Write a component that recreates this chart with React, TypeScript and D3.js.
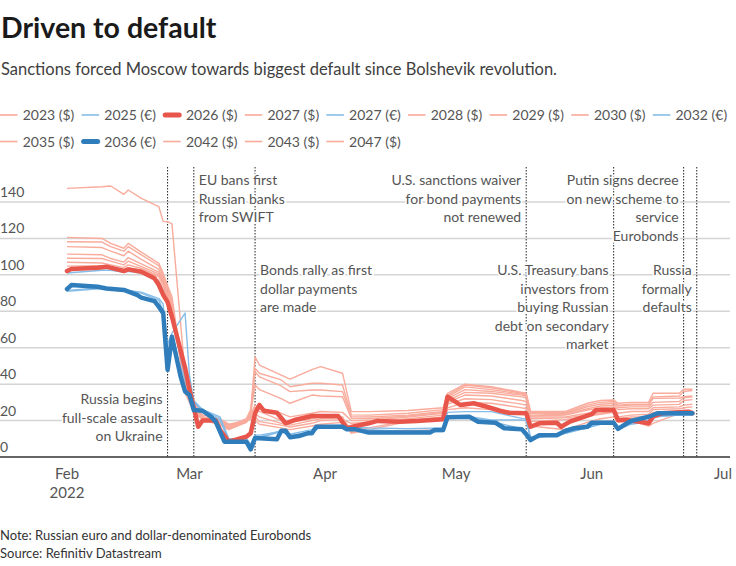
import React from "react";
import * as d3 from "d3";

const W = 736;
const H = 566;
const FONT = "Lato, 'Noto Sans', sans-serif";

// ---------- data ----------
const lightDates = ["02-01","02-09","02-11","02-14","02-15","02-18","02-22","02-23","02-24","02-25","02-28","03-01","03-02","03-04","03-08","03-10","03-14","03-15","03-16","03-17","03-22","03-24","03-29","03-31","04-05","04-07","04-11","04-20","04-28","04-29","05-03","05-09","05-16","05-17","05-18","05-26","05-31","06-03","06-06","06-07","06-10","06-14","06-15","06-21","06-22","06-24"];

const s2023 = [102.8,103.5,103.5,102,103,101.8,97,92,86,77,44,38,30,23,21,18,20,21,20,18,16,15,17,18,19,13.5,14.5,14.5,15,26,27,26,24.5,24,17,15,19,21,22,19,20,17,18.5,24,24.5,24.5];
const s2025e = [101,102.5,102.5,101.5,102,101,96,91,84,75,44,36,30,26,22,10,10,7,12,12,14,12.5,15,17,17.5,16.5,16,15.5,16,24.5,24.9,24.9,21.2,21,11,13,16.5,18.5,19,16,18.5,20,22,23.5,23.5,23.5];
const s2027 = [104.8,105,104,102.8,104,102.5,99,94,87,79,43,36,29,22,20,17.5,19.5,22,24,22,18.5,17.5,20,21,21.5,13,15,19.5,21.5,27,30,29.5,27,26.5,19.5,20.5,22.5,23.5,24.5,21,22,22,24.5,25,25.5,25.5];
const s2027e = [91,92.5,92,91.5,91,90,86,80,62,68,79,45,30,25,20,9,9,6,10.5,11,14.5,11.5,14,17,17,15.5,15,14,15,22.5,22.5,20.3,20.3,20,10,13,16,18,18.5,15,18,19.5,22,23,23,23];
const s2028 = [147.5,148.4,148.8,144.2,146.6,142,137.4,129.2,129.2,128,45,36,30,25,20,16,20,24,55,50.5,45,42.7,48,49.6,46,24.9,24.9,25.5,27,35,40,38.6,35.5,35,25,25,29.5,31,31.3,29.5,30,30,35,35,37.2,37.2];
const s2029 = [106.9,106.5,105.5,104,105.5,103.5,99.5,95,88,80,41,35,28,22,20,17,20,23,27,25,20,19,21,22,22,14,16,20,22,29,32,31.5,29,28.5,21,21.5,23,24,25,22,23,23.5,26,26.5,27,27.5];
const s2030 = [109.1,109,107.5,105.5,107.5,104.5,100.5,96,89,82,39,34,27,21,19,16,19,22,22.1,19.4,17.5,16.5,18.5,20,20.5,18.5,19,21,23,30,34,33.5,31,30.5,22,22,24,25,26,24,25,25,27,27.5,28.5,29];
const s2032e = [91.5,93,92.5,92,91.5,90.5,87,84,52,62,42,36,31,26,21,9.5,9,6,10,10.5,14,11,13.5,16.5,16.5,15,14,13.5,14,21.5,22,19.5,15.5,14,10.5,13.5,16,18.5,19,15.5,18.5,20,22.5,23,23,23];
const s2035 = [111.4,111,109,107,109.5,106,101.5,97,90,83,37,32,25,20.5,17.5,15,19,23,28.5,27,24,22,24,25,24.5,20,20,22,24,31,35.5,35,33,32.5,22.5,23,25.8,27,27.5,26,26.5,26.5,28.5,28.9,31,31.5];
const s2042 = [118.2,118,115.5,113,115.5,111,105,99.5,93,86,36,31,25,21,18,16,20,25,46.8,44,39,35.9,36.8,36.8,35.9,22.1,22,23,25,33,38.5,37,34.5,34,24,24,27.6,29,29.5,28,28.5,28.5,32.2,32.4,33.1,33.5];
const s2043 = [120.6,120,117.3,114.6,117.3,112.5,106.3,100.8,94,88,38,33,26,22,19,17,21,26,48.7,46,42.3,38.6,40.5,40.5,39.5,23.1,23,24,26,34,39.5,38,35,34.5,24.5,24.5,28.5,30,30.5,28.5,29,29,33,33.5,36,36.5];
const s2047 = [115.5,115,113,110.5,113,108.5,103,98,92,85,35,30,24,21,18,15.5,19.5,24,39.5,37,32,29.5,34,33.5,33.1,21.2,21,22.5,24.5,32,37,36,34,33.5,23,23.5,26.5,28,28.5,27,27.5,27.5,30,30.5,32.5,33];

const redDates = ["02-01","02-02","02-08","02-10","02-14","02-15","02-18","02-21","02-22","02-23","02-24","02-25","02-28","03-01","03-02","03-03","03-04","03-07","03-08","03-10","03-14","03-15","03-16","03-17","03-18","03-21","03-23","03-25","03-29","04-04","04-06","04-08","04-11","04-13","04-18","04-22","04-28","04-29","05-02","05-05","05-08","05-11","05-13","05-17","05-18","05-20","05-24","05-25","05-27","06-01","06-02","06-06","06-07","06-09","06-12","06-14","06-15","06-17","06-23","06-24"];
const s2026 = [102.1,103.2,103.9,104.5,102.1,103,101.7,98.1,94.4,89,85,77,49,37,27,16.6,20,20,14.8,8.4,11.1,13,24,28.5,25.4,24.3,18.5,20.3,22.5,22.5,15.8,17,18.5,19.8,19.4,19.8,20.7,33.1,28.5,29.5,27.6,25.4,24.3,24,16.6,18.5,18.8,16.6,19.4,23.6,25.8,25.8,20.3,20.3,19.4,18.5,22.1,24,24.9,24];

const blueDates = ["02-01","02-02","02-08","02-10","02-14","02-17","02-18","02-21","02-22","02-23","02-24","02-25","02-27","02-28","03-01","03-02","03-04","03-06","03-07","03-09","03-14","03-15","03-16","03-21","03-22","03-23","03-24","03-26","03-28","03-29","03-30","04-05","04-06","04-08","04-11","04-25","04-26","04-28","04-29","05-04","05-06","05-10","05-12","05-16","05-17","05-18","05-20","05-24","05-26","05-28","05-31","06-01","06-06","06-07","06-09","06-10","06-14","06-16","06-24"];
const s2036e = [92.2,94.4,93.5,92.5,91.7,89,87.5,85.6,82.5,79,47.8,66,44,36,34,25.8,25.4,22,19.4,8.4,8.4,4.2,10.4,9.7,14.4,14.4,10.8,11.5,13,13,16.6,16.6,15.2,15.2,13.4,13.4,14.8,14.8,21.8,22.1,19.4,18.8,15.8,15.2,12.5,9.3,12,12,14.4,15.8,16.6,18.8,18.8,15.4,18.5,19.8,22.1,24,24];

const legendLabels = ["2023 ($)","2025 (€)","2026 ($)","2027 ($)","2027 (€)","2028 ($)","2029 ($)","2030 ($)","2032 (€)","2035 ($)","2036 (€)","2042 ($)","2043 ($)","2047 ($)"];
const legendKinds = ["lr","lb","red","lr","lb","lr","lr","lr","lb","lr","blue","lr","lr","lr"];

const yTicks = [0, 20, 40, 60, 80, 100, 120, 140];
const monthTicks = ["02-01","03-01","04-01","05-01","06-01","07-01"];
const monthLabels = ["Feb","Mar","Apr","May","Jun","Jul"];

const eventDates = ["02-24","03-02","03-16","05-17","06-06","06-22","06-25"];
const eventTexts = [
  ["Russia begins","full-scale assault","on Ukraine"],
  ["EU bans first","Russian banks","from SWIFT"],
  ["Bonds rally as first","dollar payments","are made"],
  ["U.S. sanctions waiver","for bond payments","not renewed"],
  ["U.S. Treasury bans","investors from","buying Russian","debt on secondary","market"],
  ["Putin signs decree","on new scheme to","service","Eurobonds"],
  ["Russia","formally","defaults"],
];
// layout for annotations: side and first baseline
const eventSide = ["end","start","start","end","end","end","end"];
const eventTop = [404, 185, 275, 185, 275, 185, 275];

// ---------- styles ----------
const COL = {
  lr: "#f9ab9c",
  lb: "#86bde8",
  red: "#e8564b",
  blue: "#2f7dbb",
};

const parse = d3.timeParse("%Y-%m-%d");
const P = (s: string) => parse("2022-" + s) as Date;

export default function App() {
  const x = d3.scaleTime().domain([P("02-01"), P("07-01")]).range([67, 723]);
  const y = d3.scaleLinear().domain([0, 140]).range([457, 202]);

  const line = d3
    .line<[Date, number]>()
    .x((d) => x(d[0]))
    .y((d) => y(d[1]))
    .curve(d3.curveLinear);

  const mk = (dates: string[], vals: number[]) =>
    line(dates.map((d, i) => [P(d), vals[i]] as [Date, number])) || "";

  const lightRed = [s2023, s2027, s2028, s2029, s2030, s2035, s2042, s2043, s2047];
  const lightBlue = [s2025e, s2027e, s2032e];

  const lineH = 18.5;

  return (
    <svg
      width={W}
      height={H}
      style={{ position: "absolute", left: 0, top: 0, background: "#fff" }}
      fontFamily={FONT}
    >
      <rect width={W} height={H} fill="#fff" />
      {/* title */}
      <text x={1} y={38} fontSize={28.5} fontWeight={700} fill="#1a1a1a">
        Driven to default
      </text>
      <text x={1} y={75} fontSize={16.5} fill="#404040">
        Sanctions forced Moscow towards biggest default since Bolshevik revolution.
      </text>

      {/* legend */}
      {legendLabels.map((lab, i) => {
        const row = i < 9 ? 0 : 1;
        const col = i < 9 ? i : i - 9;
        const lx = col * 81.6;
        const ly = row === 0 ? 115 : 141.5;
        const k = legendKinds[i];
        const thick = k === "red" || k === "blue";
        return (
          <g key={lab}>
            <line
              x1={lx + (thick ? 2 : 0)}
              x2={lx + (thick ? 16 : 17.5)}
              y1={ly}
              y2={ly}
              stroke={COL[k as keyof typeof COL]}
              strokeWidth={thick ? 5 : 1.6}
              strokeLinecap={thick ? "round" : "butt"}
            />
            <text x={lx + 22.7} y={ly + 5} fontSize={14} fill="#555">
              {lab}
            </text>
          </g>
        );
      })}

      {/* grid */}
      {yTicks.map((t) =>
        t === 0 ? null : (
          <line key={t} x1={0} x2={730} y1={y(t)} y2={y(t)} stroke="#d4d4d4" strokeWidth={1.5} />
        )
      )}

      {/* event lines */}
      {eventDates.map((d) => (
        <line
          key={d}
          x1={x(P(d))}
          x2={x(P(d))}
          y1={167}
          y2={457}
          stroke="#222"
          strokeWidth={1}
          strokeDasharray="1.5,1.5"
        />
      ))}

      {/* annotations */}
      {eventDates.map((d, i) => {
        const side = eventSide[i];
        const tx = x(P(d)) + (side === "start" ? 5 : -5);
        return (
          <text
            key={"t" + d}
            textAnchor={side}
            fontSize={14}
            fill="#555"
            stroke="#fff"
            strokeWidth={3.5}
            strokeLinejoin="round"
            paintOrder="stroke"
          >
            {eventTexts[i].map((s, j) => (
              <tspan key={j} x={tx} y={eventTop[i] + j * lineH}>
                {s}
              </tspan>
            ))}
          </text>
        );
      })}

      {/* y tick labels */}
      {yTicks.map((t) => (
        <text
          key={"y" + t}
          x={0}
          y={y(t) - 5}
          fontSize={14}
          fill="#555"
          stroke="#fff"
          strokeWidth={3}
          paintOrder="stroke"
        >
          {t}
        </text>
      ))}

      {/* series */}
      {lightRed.map((s, i) => (
        <path key={"lr" + i} d={mk(lightDates, s)} fill="none" stroke={COL.lr} strokeWidth={1.4} strokeLinejoin="round" />
      ))}
      {lightBlue.map((s, i) => (
        <path key={"lb" + i} d={mk(lightDates, s)} fill="none" stroke={COL.lb} strokeWidth={1.4} strokeLinejoin="round" />
      ))}
      <path d={mk(redDates, s2026)} fill="none" stroke={COL.red} strokeWidth={4.5} strokeLinejoin="round" strokeLinecap="round" />
      <path d={mk(blueDates, s2036e)} fill="none" stroke={COL.blue} strokeWidth={4.5} strokeLinejoin="round" strokeLinecap="round" />

      {/* baseline */}
      <line x1={0} x2={730} y1={y(0)} y2={y(0)} stroke="#333" strokeWidth={1.5} />

      {/* x axis labels */}
      {monthTicks.map((m, i) => (
        <text key={m} x={x(P(m))} y={479} fontSize={15} fill="#555" textAnchor="middle">
          {monthLabels[i]}
        </text>
      ))}
      <text x={x(P("02-01"))} y={498} fontSize={15} fill="#555" textAnchor="middle">
        2022
      </text>

      {/* notes */}
      <text x={0} y={540} fontSize={13} fill="#333">
        Note: Russian euro and dollar-denominated Eurobonds
      </text>
      <text x={0} y={558} fontSize={13} fill="#333">
        Source: Refinitiv Datastream
      </text>
    </svg>
  );
}
